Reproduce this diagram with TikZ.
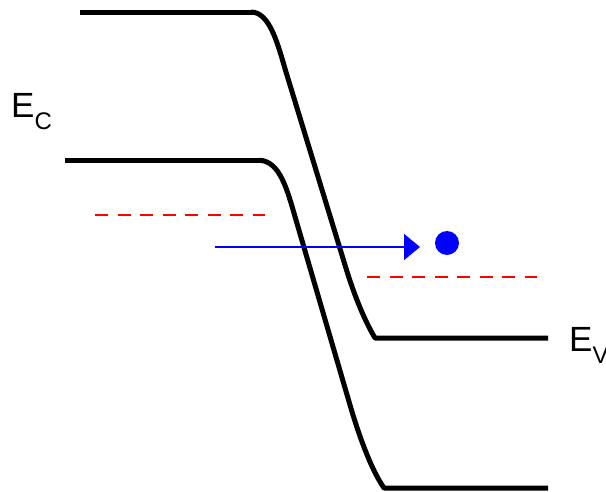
\documentclass[tikz,border=0pt]{standalone}
\usepackage{fontspec}
\setmainfont{Liberation Sans}
\usetikzlibrary{arrows.meta}
\begin{document}
\begin{tikzpicture}[x=1pt,y=-1pt,
  band/.style={line width=5pt,line join=round},
  level/.style={red,line width=2pt,dash pattern=on 13pt off 9.5pt},
  motion/.style={blue,line width=2pt,-{Triangle[length=16pt,width=26pt]}},
  lbl/.style={inner sep=0pt,anchor=base west,font=\fontsize{35}{40}\selectfont}]
\useasboundingbox (0,0) rectangle (606,492);
% conduction band edge
\draw[band] (80,12.8) -- (254,12.8);
\draw[band] (251,12) .. controls (270,12) and (278,45) .. (286,72)
  -- (345,265) .. controls (352.5,290) and (363,318) .. (375,338) -- (548,338);
% valence band edge
\draw[band] (65,160.8) -- (262,160.8);
\draw[band] (259,160.2) .. controls (280,161) and (287,189) .. (296,220)
  -- (350,405) .. controls (357.3,430) and (370,468) .. (384,488) -- (548,488);
% levels
\draw[level] (95,215) -- (265,215);
\draw[level] (367,277) -- (537,277);
% electron
\coordinate (s) at (215,247);
\coordinate (t) at (420,247);
\draw[motion] (s) -- (t);
\node[circle,fill=blue,inner sep=0pt,minimum size=24pt] (e) at (447,243) {};
% labels
\node[lbl] (ec) at (11,118) {E\raisebox{-12pt}{\fontsize{24}{28}\selectfont C}};
\node[lbl] (ev) at (569,352) {E\raisebox{-12pt}{\fontsize{24}{28}\selectfont V}};
\end{tikzpicture}
\end{document}
